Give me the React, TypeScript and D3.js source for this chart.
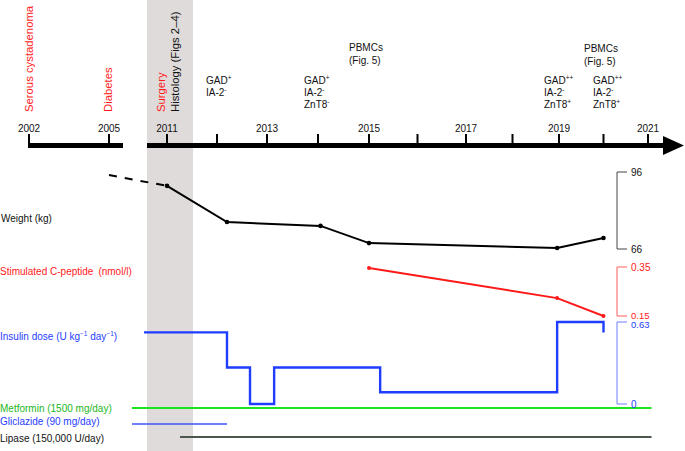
import React from "react";
import * as d3 from "d3";

// timeline
const tickYears = [2002, 2005, 2011, 2012, 2013, 2014, 2015, 2016, 2017, 2018, 2019, 2020, 2021];
const labelYears = [2002, 2005, 2011, 2013, 2015, 2017, 2019, 2021];

// weight (kg)
const weightYears = [2005, 2011, 2012.2, 2014.05, 2015, 2018.96, 2020];
const weightKg = [94.8, 90.6, 76.5, 75, 68.3, 66.4, 70.3];

// stimulated C-peptide (nmol/l)
const cpepYears = [2015, 2018.96, 2020];
const cpepValues = [0.346, 0.223, 0.15];

// insulin dose steps
const insulinYears = [2009.97, 2012.2, 2012.66, 2013.14, 2015.23, 2018.96, 2020, 2020];
const insulinValues = [0.55, 0.28, 0, 0.28, 0.09, 0.63, 0.63, 0.55];

// drugs: [start, end]
const metforminSpan = [2007.43, 2021.08];
const gliclazideSpan = [2007.43, 2012.2];
const lipaseSpan = [2011.26, 2021.08];

const surgeryBand = [2010.6, 2011.52];

const RED = "#ff1a1a";
const BLUE = "#1f3dff";
const GREEN = "#19e619";
const font = "'Liberation Sans', Arial, sans-serif";

const Sup = ({ t }: { t: string }) => (
  <tspan fontSize={6.5} dy={-4}>{t}</tspan>
);

export default function App() {
  // broken time axis: 2002-2005.5 compressed, gap, then 2010.6 onwards
  const x = d3
    .scaleLinear()
    .domain([2002, 2005, 2005.53, 2010.6, 2011, 2013, 2015, 2017, 2019, 2021])
    .range([29, 109, 123, 147, 167, 267, 369, 466, 559, 648]);
  const yW = d3.scaleLinear().domain([66, 96]).range([249, 172]);
  const yC = d3.scaleLinear().domain([0.15, 0.35]).range([316, 267]);
  const yI = d3.scaleLinear().domain([0, 0.63]).range([404, 322]);

  const axisY = 145.5;
  const weightPts = weightYears.map((d, i) => [x(d), yW(weightKg[i])] as [number, number]);
  const cpepPts = cpepYears.map((d, i) => [x(d), yC(cpepValues[i])] as [number, number]);
  const insPts = insulinYears.map((d, i) => [x(d), yI(insulinValues[i])] as [number, number]);
  const line = d3.line();
  const step = d3.line().curve(d3.curveStepAfter);

  const events = [
    { label: "Serous cystadenoma", year: 2002, color: RED, dx: 4 },
    { label: "Diabetes", year: 2005, color: RED, dx: 3 },
    { label: "Surgery", year: 2011, color: RED, dx: -2 },
    { label: "Histology (Figs 2\u20134)", year: 2011, color: "#111", dx: 12 },
  ];

  const axisTick = (px: number, top: number, bottom: number, col: string) => (
    <path d={`M${px + 10},${top}H${px}V${bottom}H${px + 10}`} fill="none" stroke={col} strokeWidth={1} />
  );

  return (
    <svg width={685} height={451} style={{ position: "absolute", left: 0, top: 0 }} fontFamily={font} fontSize={10}>
      <rect x={x(surgeryBand[0])} y={0} width={x(surgeryBand[1]) - x(surgeryBand[0])} height={451} fill="#dfdbdb" />

      {/* timeline axis */}
      <line x1={x(2002) - 1} x2={x(2005.53)} y1={axisY} y2={axisY} stroke="#000" strokeWidth={5} />
      <line x1={x(surgeryBand[0])} x2={664} y1={axisY} y2={axisY} stroke="#000" strokeWidth={5} />
      <polygon points={`663,136 684,${axisY} 663,155`} fill="#000" />
      {tickYears.map((yr) => (
        <line key={yr} x1={x(yr)} x2={x(yr)} y1={axisY} y2={134} stroke="#000" strokeWidth={2} />
      ))}
      {labelYears.map((yr) => (
        <text key={yr} x={x(yr)} y={131.5} textAnchor="middle" fill="#111">{yr}</text>
      ))}

      {events.map((e) => (
        <text key={e.label} transform={`translate(${x(e.year) + e.dx},112) rotate(-90)`} fill={e.color} fontSize={11.3}>
          {e.label}
        </text>
      ))}

      {/* antibody annotations */}
      <g fill="#111">
        <text x={206} y={84}>GAD<Sup t="+" /></text>
        <text x={206} y={96}>IA-2<Sup t="-" /></text>
        <text x={304} y={84}>GAD<Sup t="+" /></text>
        <text x={304} y={96}>IA-2<Sup t="-" /></text>
        <text x={304} y={108}>ZnT8<Sup t="-" /></text>
        <text x={349} y={51}>PBMCs</text>
        <text x={349} y={64}>(Fig. 5)</text>
        <text x={544} y={84}>GAD<Sup t="++" /></text>
        <text x={544} y={96}>IA-2<Sup t="-" /></text>
        <text x={544} y={108}>ZnT8<Sup t="+" /></text>
        <text x={593} y={84}>GAD<Sup t="++" /></text>
        <text x={593} y={96}>IA-2<Sup t="-" /></text>
        <text x={593} y={108}>ZnT8<Sup t="+" /></text>
        <text x={584} y={52}>PBMCs</text>
        <text x={584} y={65}>(Fig. 5)</text>
      </g>

      {/* weight */}
      <path d={line(weightPts.slice(0, 2)) ?? ""} fill="none" stroke="#000" strokeWidth={2} strokeDasharray="8,8" />
      <path d={line(weightPts.slice(1)) ?? ""} fill="none" stroke="#000" strokeWidth={2} />
      {weightPts.slice(1).map((p, i) => (
        <circle key={i} cx={p[0]} cy={p[1]} r={2.3} fill="#000" />
      ))}

      {/* c-peptide */}
      <path d={line(cpepPts) ?? ""} fill="none" stroke={RED} strokeWidth={2} />
      {cpepPts.map((p, i) => (
        <circle key={i} cx={p[0]} cy={p[1]} r={2} fill={RED} />
      ))}

      {/* insulin */}
      <path d={step(insPts) ?? ""} fill="none" stroke={BLUE} strokeWidth={2.4} />

      {/* drugs */}
      <line x1={x(metforminSpan[0])} x2={x(metforminSpan[1])} y1={408} y2={408} stroke={GREEN} strokeWidth={2} />
      <line x1={x(gliclazideSpan[0])} x2={x(gliclazideSpan[1])} y1={424} y2={424} stroke="#3a55ff" strokeWidth={1.5} />
      <line x1={x(lipaseSpan[0])} x2={x(lipaseSpan[1])} y1={437} y2={437} stroke="#4a574a" strokeWidth={2} />

      {/* right scales */}
      {axisTick(617, yW(96), yW(66), "#444")}
      <text x={631} y={yW(96) + 3.5} fill="#111">96</text>
      <text x={631} y={yW(66) + 3.5} fill="#111">66</text>
      {axisTick(617, yC(0.35), yC(0.15), "#ff5a5a")}
      <text x={631} y={yC(0.35) + 3.5} fill={RED}>0.35</text>
      <text x={631} y={yC(0.15) + 2.5} fill={RED} fontSize={9.5}>0.15</text>
      {axisTick(617, yI(0.63), yI(0), "#6f7fff")}
      <text x={631} y={yI(0.63) + 6} fill={BLUE} fontSize={9.5}>0.63</text>
      <text x={631} y={yI(0) + 3.5} fill={BLUE}>0</text>

      {/* left labels */}
      <text x={1} y={222} fill="#111">Weight (kg)</text>
      <text x={0} y={275} fill={RED}>Stimulated C-peptide<tspan dx={5}>(nmol/l)</tspan></text>
      <text x={0} y={340} fill={BLUE}>
        Insulin dose (U kg<Sup t={"\u22121"} /><tspan dy={4}> day</tspan><Sup t={"\u22121"} /><tspan dy={4}>)</tspan>
      </text>
      <text x={0} y={412} fill="#1bb81b">Metformin (1500 mg/day)</text>
      <text x={0} y={425} fill={BLUE}>Gliclazide (90 mg/day)</text>
      <text x={0} y={442} fill="#111">Lipase (150,000 U/day)</text>
    </svg>
  );
}
